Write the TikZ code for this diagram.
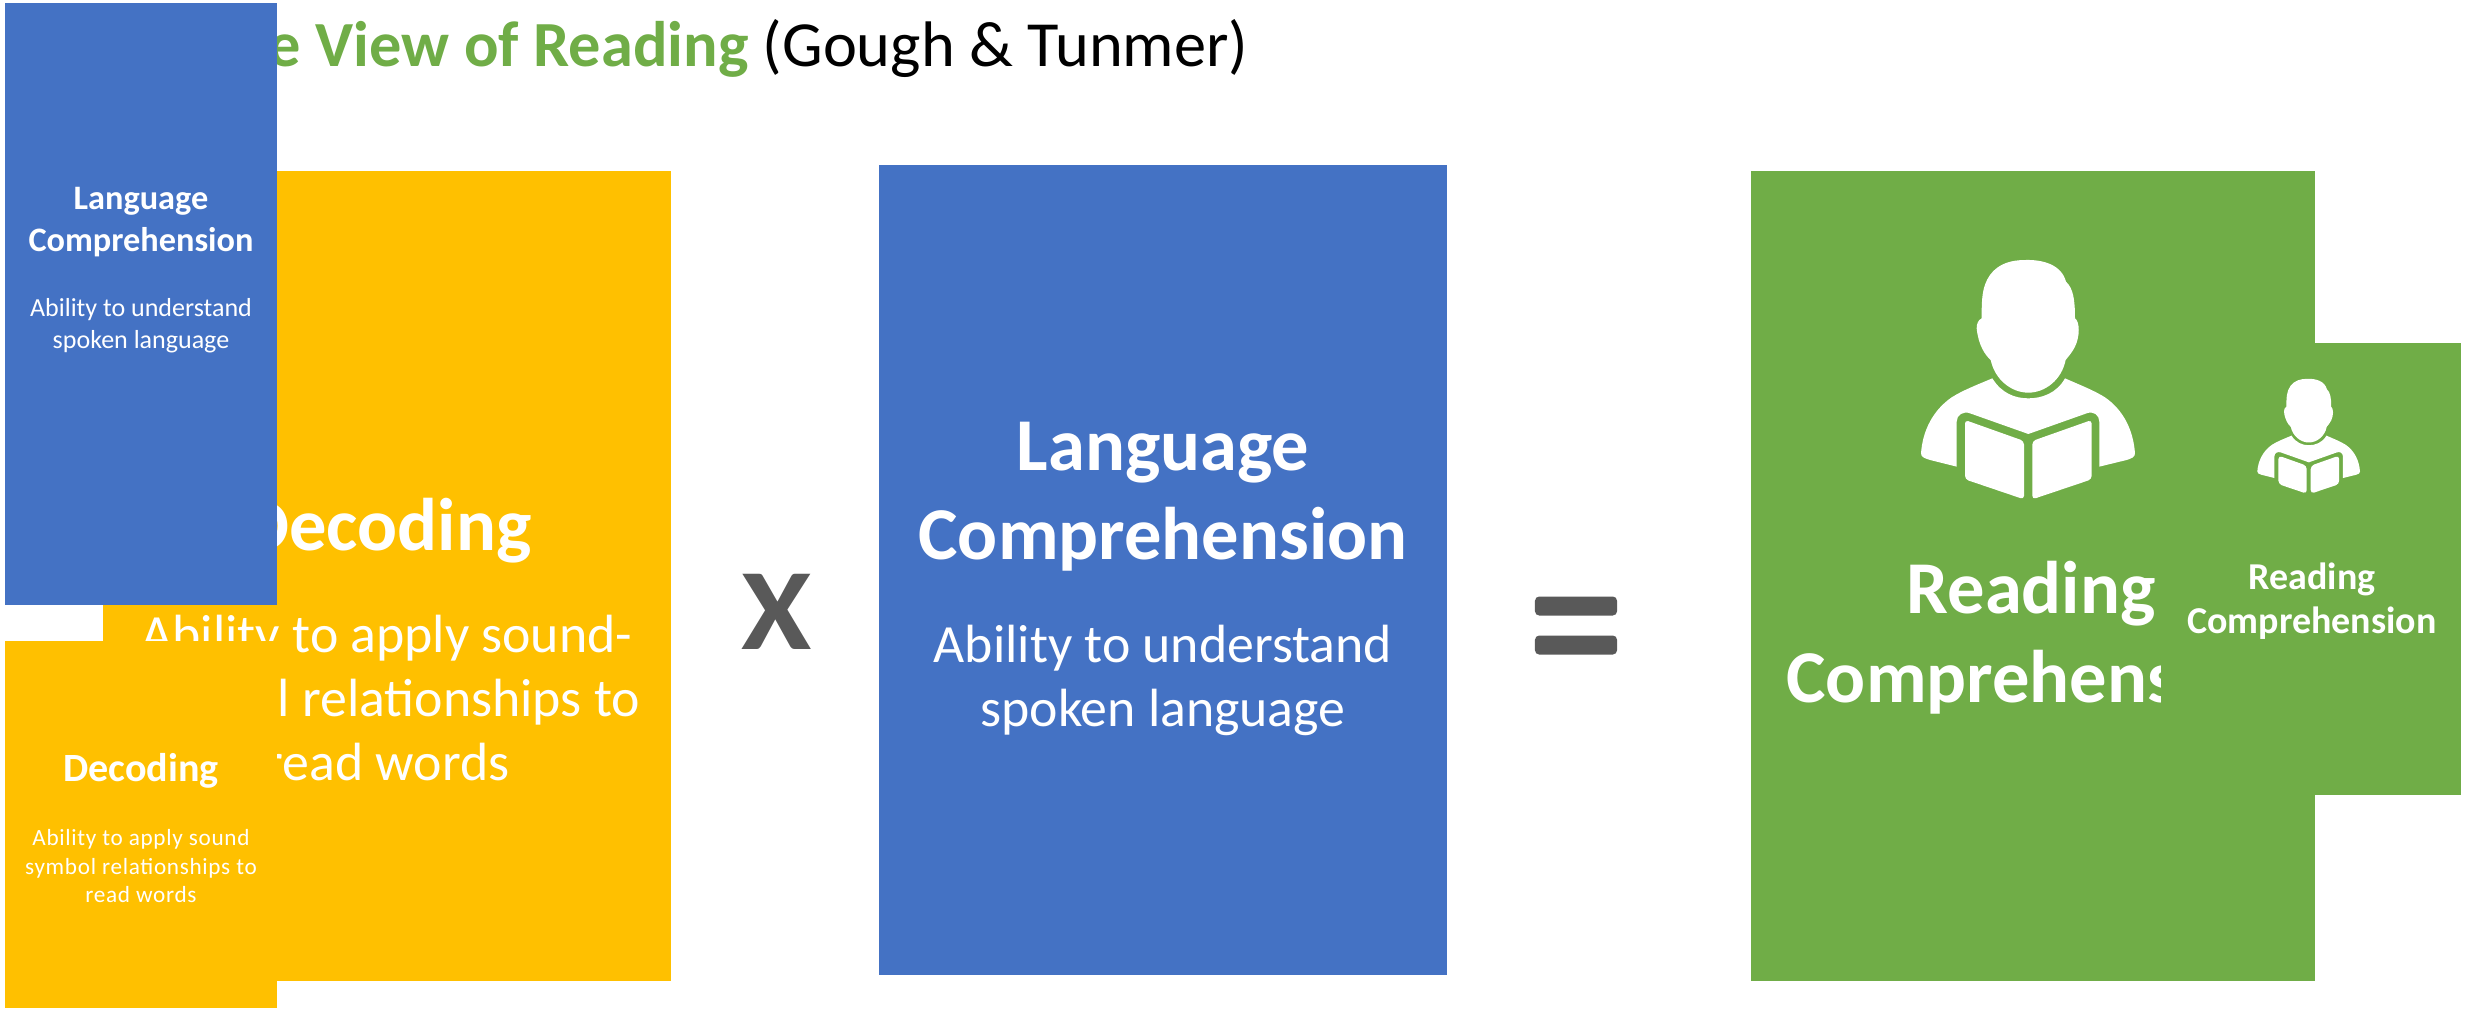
\documentclass[tikz,border=0pt]{standalone}
\usepackage{fontspec}
\usepackage{xcolor}
\setmainfont{Carlito}
\definecolor{boxyellow}{HTML}{FFC000}
\definecolor{boxblue}{HTML}{4472C4}
\definecolor{boxgreen}{HTML}{70AD47}
\definecolor{opgrey}{HTML}{595959}
\tikzset{
box/.style={anchor=north west,inner sep=0pt,outer sep=0pt},
txt/.style={text=white,align=center,inner sep=0pt},
bighead/.style={txt,font=\bfseries\fontsize{21.2}{25.3}\selectfont},
bigbody/.style={txt,font=\fontsize{15.3}{18.1}\selectfont},
smallhead/.style={txt,font=\bfseries\fontsize{9.75}{11.9}\selectfont},
smallbody/.style={txt,font=\fontsize{7.4}{9.1}\selectfont},
opbar/.style={fill=opgrey,rounded corners=1.2pt,minimum width=.82cm,minimum height=.19cm,inner sep=0pt},
reader/.pic={
\fill[white] (345,30) .. controls (400,28) and (455,45) .. (468,95)
 .. controls (490,115) and (495,150) .. (495,205)
 .. controls (510,215) and (510,260) .. (495,290)
 .. controls (488,305) and (475,320) .. (467,330)
 .. controls (455,390) and (405,428) .. (355,428)
 .. controls (305,428) and (255,390) .. (242,330)
 .. controls (225,315) and (205,285) .. (200,235)
 .. controls (200,220) and (205,210) .. (215,205)
 .. controls (215,150) and (215,110) .. (240,75)
 .. controls (265,40) and (305,30) .. (345,30) -- cycle;
\fill[white] (247,385) .. controls (275,430) and (315,445) .. (355,445)
 .. controls (395,445) and (440,430) .. (465,385)
 .. controls (510,405) and (550,420) .. (585,442)
 .. controls (640,480) and (670,540) .. (675,610)
 .. controls (675,622) and (665,625) .. (650,630)
 -- (568,650) -- (568,515) .. controls (568,495) and (550,482) .. (530,490)
 -- (355,552) -- (180,490) .. controls (160,482) and (140,495) .. (140,515)
 -- (140,650) -- (60,630) .. controls (45,625) and (33,622) .. (33,610)
 .. controls (38,540) and (70,480) .. (125,442)
 .. controls (160,420) and (200,405) .. (247,385) -- cycle;
\fill[white,rounded corners=1pt] (165,510) -- (342,573) -- (342,748) -- (165,688) -- cycle;
\fill[white,rounded corners=1pt] (367,573) -- (545,510) -- (545,688) -- (367,748) -- cycle;
}
}
\begin{document}
\begin{tikzpicture}[x=0.01cm,y=-0.01cm]
\useasboundingbox (0,0) rectangle (2469,1008);
% heading runs underneath the small blue box
\node(Title) [anchor=east,inner sep=0pt,font=\fontsize{18.3}{22}\selectfont] at (1249,48) {\textcolor{boxgreen}{\bfseries Simple View of Reading} (Gough \& Tunmer)};

\node(BigDec)  [box,fill=boxyellow,minimum width=5.68cm,minimum height=8.10cm] at (103,171) {};
\node(BigLang) [box,fill=boxblue,minimum width=5.68cm,minimum height=8.10cm] at (879,165) {};
\node(BigRead) [box,fill=boxgreen,minimum width=5.64cm,minimum height=8.10cm] at (1751,171) {};

\node(DecHead)  [bighead] at (387,531) {Decoding};
\node(DecBody)  [bigbody,below of=DecHead,node distance=1.67cm] {Ability to apply sound-\\symbol relationships to\\read words};
\node(LangHead) [bighead] at (1163,497) {Language\\Comprehension};
\node(LangBody) [bigbody,below of=LangHead,node distance=1.83cm] {Ability to understand\\spoken language};
\node(ReadHead) [bighead] at (2031,638) {Reading\\Comprehension};

\pic[scale=0.3333] at (1910,250) {reader};

\node(Times)  [font=\bfseries\fontsize{33}{40}\selectfont,text=opgrey,inner sep=0pt,xscale=1.1] at (777,612) {X};
\node(EqTop)  [opbar] at (1576,606) {};
\node(EqBot)  [opbar,below of=EqTop,node distance=.39cm] {};

% small copies on top, they hide parts of the big ones
\node(SmallGreen) [box,fill=boxgreen,minimum width=3.00cm,minimum height=4.52cm] at (2161,343) {};
\pic[scale=0.16] at (2252,374) {reader};
\node(SmallReadHead) [txt,font=\bfseries\fontsize{10.8}{12.6}\selectfont] at (2312,601) {Reading\\Comprehension};

\node(SmallLang) [box,fill=boxblue,minimum width=2.72cm,minimum height=6.02cm] at (5,3) {};
\node(SmallLangHead) [smallhead] at (141,222) {Language\\Comprehension};
\node(SmallLangBody) [smallbody,below of=SmallLangHead,node distance=1.04cm] {Ability to understand\\spoken language};

\node(SmallDec) [box,fill=boxyellow,minimum width=2.72cm,minimum height=3.67cm] at (5,641) {};
\node(SmallDecHead) [smallhead,font=\bfseries\fontsize{11.4}{12}\selectfont] at (141,771) {Decoding};
\node(SmallDecBody) [smallbody,font=\addfontfeature{LetterSpace=3}\fontsize{6.6}{8.2}\selectfont,below of=SmallDecHead,node distance=.95cm] {Ability to apply sound\\symbol relationships to\\read words};
\end{tikzpicture}
\end{document}
